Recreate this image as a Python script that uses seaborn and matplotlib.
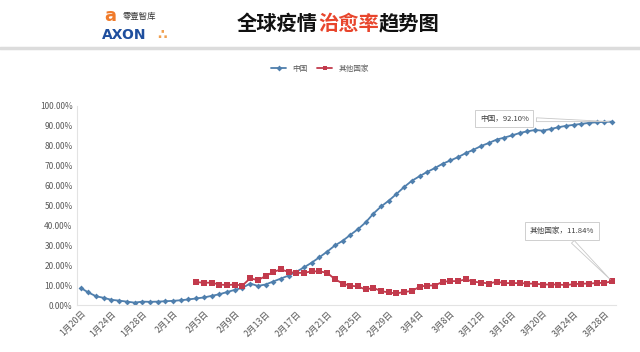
import pandas as pd
import numpy as np
from matplotlib import pyplot as plt
import seaborn as sns

sns.set_theme(style="white")
plt.rcParams['font.family'] = ['Noto Sans CJK SC', 'DejaVu Sans']

start_date = "2020-01-20"
n_days = 70
tick_step = 4

china_rate = [8.6, 6.3, 4.4, 3.6, 2.6, 2.2, 1.7, 1.2, 1.7, 1.6,
              1.7, 1.9, 2.1, 2.4, 2.8, 3.3, 3.8, 4.6, 5.4, 6.5,
              7.6, 8.6, 10.8, 9.6, 10.3, 11.8, 13.3, 14.8, 16.7, 18.9,
              21.3, 24.0, 26.8, 29.9, 32.2, 35.2, 38.1, 41.5, 45.9, 49.5,
              52.4, 55.8, 59.3, 62.4, 64.7, 66.9, 68.8, 71.0, 72.6, 74.3,
              76.3, 78.0, 79.9, 81.4, 83.1, 84.1, 85.2, 86.4, 87.3, 87.9,
              87.6, 88.4, 89.3, 90.0, 90.5, 91.0, 91.5, 91.8, 92.0, 92.10]
other_start = 15
other_rate = [11.5, 11.2, 11.2, 10.3, 10.0, 10.3, 9.8, 13.4, 12.5, 14.5,
              16.6, 17.9, 16.6, 16.1, 16.2, 16.9, 16.9, 16.2, 13.0, 10.8,
              9.7, 9.3, 7.8, 8.6, 7.0, 6.3, 5.8, 6.6, 7.0, 9.2,
              9.8, 9.8, 11.7, 12.0, 12.0, 12.9, 11.7, 11.3, 10.8, 11.7,
              11.0, 11.0, 11.0, 10.8, 10.7, 10.3, 10.3, 10.3, 10.0, 10.5,
              10.7, 10.8, 11.0, 11.2, 11.84]
series_names = ["中国", "其他国家"]

dates = pd.date_range(start_date, periods=n_days, freq="D")
date_labels = [f"{d.month}月{d.day}日" for d in dates]

df = pd.concat([
    pd.DataFrame({"day": np.arange(n_days), "rate": china_rate, "region": series_names[0]}),
    pd.DataFrame({"day": np.arange(other_start, other_start + len(other_rate)),
                  "rate": other_rate, "region": series_names[1]}),
])

blue = "#4f7fad"
red = "#c23a4c"
grey = "#595959"

fig = plt.figure(figsize=(6.4, 3.52), dpi=100)
ax = fig.add_axes([0.120, 0.1335, 0.8425, 0.5655])

sns.lineplot(data=df, x="day", y="rate", hue="region", style="region",
             palette={series_names[0]: blue, series_names[1]: red},
             markers={series_names[0]: "D", series_names[1]: "s"},
             dashes=False, markersize=3, markeredgewidth=0, linewidth=1.3, ax=ax)
ax.lines[1].set_markersize(4)

ax.set_xlim(-0.5, n_days - 0.5)
ax.set_ylim(0, 100)
ax.set_yticks(np.arange(0, 101, 10))
ax.set_yticklabels([f"{v:.2f}%" for v in range(0, 101, 10)], fontsize=6, color=grey)
ticks = np.arange(0, n_days, tick_step)
ax.set_xticks(ticks)
ax.set_xticklabels([date_labels[i] for i in ticks], rotation=45, ha="right",
                   rotation_mode="anchor", fontsize=6.3, color=grey)
ax.tick_params(axis="both", length=0, pad=3)
ax.set_xlabel("")
ax.set_ylabel("")
for s in ["top", "right"]:
    ax.spines[s].set_visible(False)
for s in ["left", "bottom"]:
    ax.spines[s].set_color("#e3e3e3")
    ax.spines[s].set_linewidth(0.8)

handles, labels = ax.get_legend_handles_labels()
ax.legend_.remove()
fig.legend(handles, labels, loc="center", bbox_to_anchor=(0.5, 0.805), ncol=2,
           frameon=False, fontsize=5.5, handlelength=2.0, columnspacing=1.2,
           labelcolor=grey)

# callouts
ax.annotate(f"{series_names[0]}，{china_rate[-1]:.2f}%", xy=(n_days - 1, china_rate[-1]),
            xytext=(55, 93.5), fontsize=5.5, color="#404040", ha="center", va="center",
            bbox=dict(boxstyle="square,pad=0.6", fc="white", ec="#c8c8c8", lw=0.6),
            arrowprops=dict(arrowstyle="wedge,tail_width=0.5", fc="white", ec="#c8c8c8", lw=0.6))
ax.annotate(f"{series_names[1]}，{other_rate[-1]:.2f}%", xy=(n_days - 1, other_rate[-1]),
            xytext=(62.5, 37.2), fontsize=5.5, color="#404040", ha="center", va="center",
            bbox=dict(boxstyle="square,pad=0.6", fc="white", ec="#c8c8c8", lw=0.6),
            arrowprops=dict(arrowstyle="wedge,tail_width=0.5", fc="white", ec="#c8c8c8", lw=0.6))

# header
fig.add_artist(plt.Line2D([0, 1], [0.864, 0.864], color="#dcdcdc", lw=2.5))
title_y = 1 - 23 / 352
fig.text(237 / 640, title_y, "全球疫情", fontsize=14.6, fontweight="bold", color="#111111", va="center")
fig.text(318 / 640, title_y, "治愈率", fontsize=14.6, fontweight="bold", color="#e8452c", va="center")
fig.text(379 / 640, title_y, "趋势图", fontsize=14.6, fontweight="bold", color="#111111", va="center")

fig.text(104 / 640, 1 - 16 / 352, "a", fontsize=13, fontweight="bold", color="#f07a2a",
         va="center", family="DejaVu Sans")
fig.text(123 / 640, 1 - 16 / 352, "零壹智库", fontsize=6, color="#333333", va="center")
fig.text(102 / 640, 1 - 35 / 352, "AXON", fontsize=10, fontweight="bold", color="#1f4f9e",
         va="center", family="DejaVu Sans")
fig.text(157 / 640, 1 - 35 / 352, "∴", fontsize=10, fontweight="bold", color="#f0a050",
         va="center", family="DejaVu Sans")

plt.savefig("out.png", dpi=100)
